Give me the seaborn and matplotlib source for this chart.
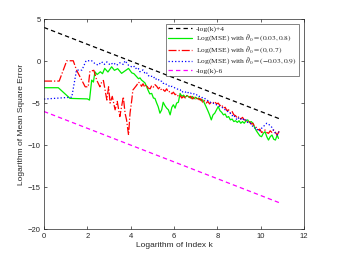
import numpy as np
import pandas as pd
import matplotlib
matplotlib.use("Agg")
import matplotlib.pyplot as plt
import seaborn as sns

# ---- data ----
ref_upper_x = [0.0, 10.85]
ref_upper_y = [4.0, -6.85]
ref_lower_x = [0.0, 10.85]
ref_lower_y = [-6.0, -16.85]

green_x = [0, 0.66, 1.2, 2.0, 2.1, 2.2, 2.28, 2.35, 2.45, 2.6, 2.7, 2.8, 2.95, 3.12, 3.25, 3.4, 3.58, 3.72, 3.9,
           4.05, 4.15, 4.28, 4.36, 4.43, 4.5, 4.57, 4.66, 4.73, 4.8, 4.88, 4.97, 5.05, 5.12, 5.2, 5.27, 5.35, 5.43, 5.5, 5.58,
           5.66, 5.74, 5.82, 5.9, 5.97, 6.05, 6.12, 6.2, 6.28, 6.36, 6.44, 6.52, 6.6, 6.68, 6.76, 6.84, 6.92, 7.0, 7.08, 7.16,
           7.24, 7.32, 7.4, 7.48, 7.56, 7.64, 7.72, 7.8, 7.88, 7.96, 8.04, 8.12, 8.2, 8.28, 8.36, 8.44, 8.52, 8.6, 8.68, 8.76,
           8.84, 8.92, 9.0, 9.08, 9.16, 9.24, 9.32, 9.4, 9.48, 9.56, 9.64, 9.72, 9.8, 9.88, 9.96, 10.04, 10.12, 10.2, 10.28,
           10.36, 10.44, 10.52, 10.6, 10.68, 10.76, 10.82]
green_y = [-3.17, -3.17, -4.44, -4.5, -4.64, -2.26, -2.5, -1.27, -1.6, -1.27, -1.5, -0.87, -1.3, -0.68, -1.1, -0.9, -1.46, -1.2, -0.87,
           -1.4, -1.5, -1.87, -2.1, -2.0, -2.26, -2.4, -2.6, -3.0, -3.45, -3.9, -3.85, -4.4, -4.44, -5.0, -5.44, -6.2, -5.8, -4.9, -5.3,
           -5.6, -5.8, -6.4, -5.5, -5.2, -5.6, -5.0, -4.9, -3.85, -4.2, -4.05, -4.3, -4.1, -4.25, -4.4, -4.2, -4.5, -4.3, -4.5, -4.4,
           -4.7, -4.6, -5.0, -5.44, -5.9, -6.4, -7.0, -6.4, -6.2, -5.8, -5.4, -5.9, -6.1, -6.4, -6.3, -6.7, -6.6, -7.0, -6.9, -7.2,
           -7.1, -7.3, -7.1, -7.4, -7.2, -7.4, -7.1, -7.0, -7.3, -7.2, -7.4, -7.9, -8.3, -8.6, -8.9, -9.0, -8.6, -8.4, -9.0,
           -9.4, -9.0, -8.8, -9.3, -9.4, -8.8, -9.2]

red_x = [0, 0.7, 1.05, 1.35, 1.5, 1.9, 2.04, 2.12, 2.3, 2.43, 2.58, 2.66, 2.74, 2.9, 2.98, 3.05, 3.15, 3.28, 3.38, 3.5,
         3.58, 3.66, 3.74, 3.81, 3.9, 3.97, 4.05, 4.1, 4.28, 4.36, 4.43, 4.5, 4.57, 4.65, 4.72, 4.8, 4.9, 4.97, 5.05, 5.12,
         5.2, 5.28, 5.35, 5.43, 5.5, 5.58, 5.66, 5.74, 5.82, 5.9, 5.97, 6.05, 6.12, 6.2, 6.28, 6.36, 6.44, 6.52, 6.6, 6.68,
         6.76, 6.84, 6.92, 7.0, 7.08, 7.16, 7.24, 7.32, 7.4, 7.48, 7.56, 7.64, 7.72, 7.8, 7.88, 7.96, 8.04, 8.12, 8.2, 8.28,
         8.36, 8.44, 8.52, 8.6, 8.68, 8.76, 8.84, 8.92, 9.0, 9.08, 9.16, 9.24, 9.32, 9.4, 9.48, 9.56, 9.64, 9.72, 9.8, 9.88,
         9.96, 10.04, 10.12, 10.2, 10.28, 10.36, 10.44, 10.52, 10.6, 10.68, 10.76, 10.84, 10.88]
red_y = [-2.38, -2.38, 0.04, 0.04, -1.07, -3.06, -3.06, -1.2, -1.1, -2.26, -3.06, -2.5, -2.3, -4.64, -3.06, -5.0, -4.2, -5.8, -4.8, -6.6,
         -5.4, -4.25, -6.2, -7.0, -8.8, -6.2, -4.64, -3.45, -2.86, -2.5, -2.66, -3.0, -2.7, -3.1, -2.8, -3.2, -3.3, -2.9, -3.1, -2.8,
         -3.0, -3.3, -3.1, -3.5, -3.4, -3.6, -3.3, -3.7, -3.6, -3.9, -3.7, -4.0, -3.9, -4.2, -4.1, -4.4, -4.2, -4.4, -4.1, -4.3,
         -4.2, -4.5, -4.3, -4.5, -4.3, -4.6, -4.5, -4.9, -4.7, -5.0, -4.8, -5.1, -4.9, -5.0, -4.8, -5.1, -5.0, -5.3, -5.2, -5.6,
         -5.5, -5.9, -5.8, -6.2, -6.0, -6.4, -6.5, -6.8, -6.6, -6.9, -6.7, -7.0, -7.0, -7.3, -7.2, -7.5, -7.4, -7.8, -7.9, -8.2,
         -8.1, -8.5, -8.4, -8.2, -8.5, -8.6, -8.3, -8.5, -8.2, -8.5, -8.8, -8.4, -8.6]

blue_x = [0, 1.28, 1.5, 1.75, 1.94, 2.2, 2.35, 2.5, 2.66, 2.78, 2.9, 3.05, 3.2, 3.35, 3.5, 3.66, 3.74, 3.9,
          4.1, 4.18, 4.28, 4.36, 4.43, 4.5, 4.57, 4.65, 4.72, 4.8, 4.9, 4.97, 5.05, 5.12, 5.2, 5.28, 5.35, 5.43, 5.5, 5.58,
          5.66, 5.74, 5.82, 5.9, 5.97, 6.05, 6.12, 6.2, 6.28, 6.36, 6.44, 6.52, 6.6, 6.68, 6.76, 6.84, 6.92, 7.0, 7.08, 7.16,
          7.24, 7.32, 7.4, 7.48, 7.56, 7.64, 7.72, 7.8, 7.88, 7.96, 8.04, 8.12, 8.2, 8.28, 8.36, 8.44, 8.52, 8.6, 8.68, 8.76,
          8.84, 8.92, 9.0, 9.08, 9.16, 9.24, 9.32, 9.4, 9.48, 9.56, 9.64, 9.72, 9.8, 9.88, 9.96, 10.04, 10.12, 10.2, 10.28,
          10.36, 10.44, 10.52, 10.6, 10.68, 10.76, 10.84]
blue_y = [-4.52, -4.3, -1.07, -1.07, 0.04, 0.04, -0.3, -0.48, -0.08, -0.4, -0.1, -0.45, -0.2, -0.5, -0.2, -0.4, 0.04, -0.5,
          -0.75, -0.6, -1.0, -0.9, -1.27, -1.1, -1.07, -1.4, -1.3, -1.7, -1.87, -1.8, -2.0, -1.9, -2.26, -2.2, -2.4, -2.4, -2.66, -2.6,
          -2.8, -2.9, -3.1, -3.0, -3.1, -3.2, -3.25, -3.4, -3.4, -3.7, -3.6, -3.7, -3.6, -3.85, -3.8, -3.95, -3.9, -4.05, -4.0, -4.2,
          -4.2, -4.4, -4.4, -4.6, -4.7, -4.9, -4.9, -5.0, -5.1, -5.2, -5.3, -5.4, -5.5, -5.6, -5.8, -5.9, -6.1, -6.2, -6.5, -6.4,
          -6.8, -7.0, -6.7, -6.9, -6.8, -7.1, -7.0, -7.3, -7.3, -7.5, -7.8, -7.9, -8.2, -8.1, -8.3, -8.0, -7.8, -7.6, -7.4,
          -7.5, -7.7, -7.9, -8.3, -8.6, -8.8, -8.4]

labels = ["-log(k)+4",
          r"Log(MSE) with $\hat{\theta}_0=(0.03, 0.8)$",
          r"Log(MSE) with $\hat{\theta}_0=(0, 0.7)$",
          r"Log(MSE) with $\hat{\theta}_0=(-0.03, 0.9)$",
          "-log(k)-6"]
x_ticks = [0, 2, 4, 6, 8, 10, 12]
y_ticks = [-20, -15, -10, -5, 0, 5]

# ---- styling ----
sns.set_style("white")
plt.rcParams["font.family"] = ["Liberation Sans", "DejaVu Sans"]
plt.rcParams["mathtext.fontset"] = "stix"

fig = plt.figure(figsize=(3.37, 2.58), dpi=100)
ax = fig.add_axes([0.1306, 0.112, 0.7716, 0.814])

series = [
    (ref_upper_x, ref_upper_y, labels[0], "black", (0, (3.5, 2.5))),
    (green_x, green_y, labels[1], "#00ee00", "-"),
    (red_x, red_y, labels[2], "#ff0000", "-."),
    (blue_x, blue_y, labels[3], "#0000ff", ":"),
    (ref_lower_x, ref_lower_y, labels[4], "#ff00ff", (0, (3.5, 2.5))),
]
for xs, ys, lab, col, ls in series:
    df = pd.DataFrame({"x": xs, "y": ys})
    sns.lineplot(data=df, x="x", y="y", ax=ax, color=col, linestyle=ls,
                 linewidth=0.9, label=lab, estimator=None, sort=False)

ax.set_xlim(0, 12)
ax.set_ylim(-20, 5)
ax.set_xticks(x_ticks)
ax.set_yticks(y_ticks)
ax.tick_params(direction="in", length=2.5, width=0.5, labelsize=5.5,
               colors="#262626", top=True, right=True, bottom=True, left=True, pad=2.5)
for s in ax.spines.values():
    s.set_color("#262626")
    s.set_linewidth(0.5)
ax.set_xlabel("Logarithm of Index k", fontsize=6, color="#262626", labelpad=2)
ax.set_ylabel("Logarithm of Mean Square Error", fontsize=6, color="#262626", labelpad=2)

leg = ax.legend(loc="upper right", bbox_to_anchor=(0.985, 0.985),
                prop={"family": ["Liberation Serif"], "size": 5.4},
                frameon=True, fancybox=False, edgecolor="#262626",
                handlelength=3.2, handletextpad=0.5, borderpad=0.25,
                labelspacing=0.0, borderaxespad=0.2)
leg.get_frame().set_linewidth(0.5)

fig.savefig("out.png", dpi=100)
